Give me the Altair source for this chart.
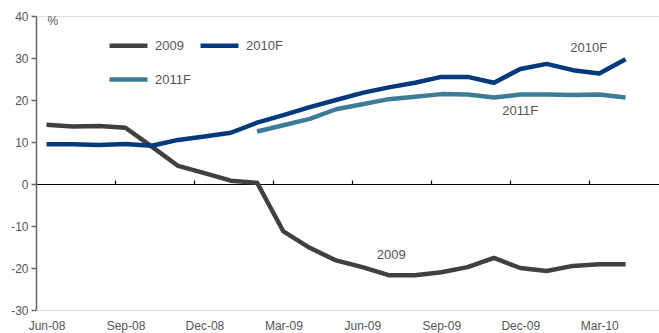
import altair as alt
import pandas as pd

months = ["Jun-08", "Jul-08", "Aug-08", "Sep-08", "Oct-08", "Nov-08", "Dec-08",
          "Jan-09", "Feb-09", "Mar-09", "Apr-09", "May-09", "Jun-09", "Jul-09",
          "Aug-09", "Sep-09", "Oct-09", "Nov-09", "Dec-09", "Jan-10", "Feb-10",
          "Mar-10", "Apr-10"]

s2009 = [14.1, 13.7, 13.8, 13.4, 8.9, 4.3, 2.6, 0.8, 0.3, -11.3, -15.2, -18.2,
         -19.8, -21.7, -21.7, -21.0, -19.8, -17.6, -20.0, -20.7, -19.5, -19.1, -19.1]
s2010 = [9.45, 9.45, 9.3, 9.5, 9.1, 10.5, 11.3, 12.2, 14.6, 16.4, 18.3, 20.0,
         21.7, 23.0, 24.1, 25.5, 25.5, 24.1, 27.4, 28.6, 27.1, 26.3, 29.7]
s2011 = [None, None, None, None, None, None, None, None, 12.5, 14.0, 15.5, 17.8,
         19.0, 20.2, 20.8, 21.4, 21.3, 20.6, 21.3, 21.3, 21.2, 21.3, 20.6]

series_names = ["2009", "2010F", "2011F"]
series_colors = ["#404040", "#003a7d", "#3e7b96"]

ann_labels = ["2010F", "2011F", "2009"]
ann_pos = [20.6, 18.0, 13.1]
ann_vals = [32.4, 17.4, -16.9]

y_ticks = [-30, -20, -10, 0, 10, 20, 30, 40]
label_idx = [0, 3, 6, 9, 12, 15, 18, 21]
tick_pos = [-0.4, 2.6, 5.6, 8.6, 11.6, 14.6, 17.6, 20.6]

rows = []
for name, vals in zip(series_names, [s2009, s2010, s2011]):
    for i, v in enumerate(vals):
        if v is not None:
            rows.append({"i": i, "month": months[i], "series": name, "value": v})
df = pd.DataFrame(rows)
ann = pd.DataFrame({"label": ann_labels, "i": ann_pos, "value": ann_vals})

label_expr = "[" + ",".join("'%s'" % m for m in months) + "][round(datum.value)]"
y_label_expr = "datum.value < 0 ? '-' + abs(datum.value) : '' + datum.value"

x_scale = alt.Scale(domain=[-0.4, 23.27], nice=False, zero=False)
y_scale = alt.Scale(domain=[-30, 40], nice=False)

gray = "#555555"

y_axis = alt.Axis(values=y_ticks, grid=False, domainColor="#666666",
                  labelExpr=y_label_expr,
                  domainWidth=1.5, tickColor="#666666", tickSize=5, tickWidth=1.5,
                  labelPadding=3, labelFontSize=12, labelColor=gray,
                  title="%", titleAngle=0, titleX=11, titleY=-1,
                  titleAlign="left", titleBaseline="top",
                  titleFontWeight="normal", titleFontSize=12, titleColor=gray)

lines = alt.Chart(df).mark_line(strokeWidth=4.5, strokeJoin="round").encode(
    x=alt.X("i:Q", scale=x_scale,
            axis=alt.Axis(orient="bottom", values=label_idx, labelExpr=label_expr,
                          domain=False, ticks=False, grid=False, title=None,
                          labelPadding=10, labelFontSize=12, labelColor=gray)),
    y=alt.Y("value:Q", scale=y_scale, axis=y_axis),
    color=alt.Color("series:N",
                    scale=alt.Scale(domain=series_names, range=series_colors),
                    legend=alt.Legend(orient="none", legendX=71, legendY=8, columns=2,
                                      direction="horizontal",
                                      symbolType="stroke", symbolSize=1444,
                                      symbolStrokeWidth=4.5, labelFontSize=13,
                                      labelColor=gray, title=None, labelOffset=5,
                                      columnPadding=0, rowPadding=3, padding=0)),
    detail="series:N",
)

zero_axis = alt.Chart(df).mark_point(opacity=0).encode(
    x=alt.X("i:Q", scale=x_scale,
            axis=alt.Axis(orient="top", offset=-168, values=tick_pos, labels=False,
                          grid=False, title=None, domainColor="#000000", domainWidth=1.2,
                          tickColor="#000000", tickSize=4, tickWidth=1.2)),
    y=alt.Y("value:Q", scale=y_scale, axis=y_axis),
)

texts = alt.Chart(ann).mark_text(fontSize=13, color=gray).encode(
    x=alt.X("i:Q", scale=x_scale, axis=None),
    y=alt.Y("value:Q", scale=y_scale, axis=y_axis),
    text="label:N",
)

chart = alt.layer(lines, zero_axis, texts).resolve_axis(x="independent").properties(
    width=623, height=294,
    autosize=alt.AutoSizeParams(type="none"),
    padding={"left": 36, "top": 16, "right": 0, "bottom": 23},
).configure_view(stroke="transparent", strokeWidth=0).configure(font="Liberation Sans")

chart.save("out.html", embed_options={"renderer": "svg", "actions": False})
